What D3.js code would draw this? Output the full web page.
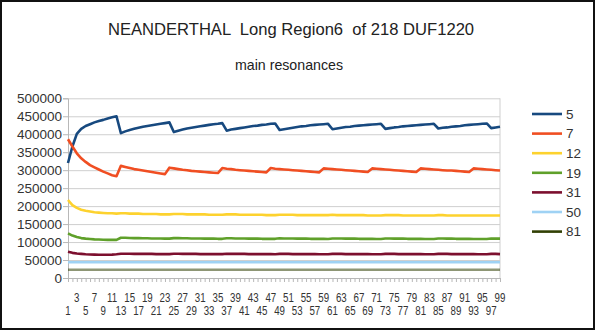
<!DOCTYPE html>
<html>
<head>
<meta charset="utf-8">
<script src="https://cdn.jsdelivr.net/npm/d3@7"></script>
<style>
  html, body { margin: 0; padding: 0; background: #fff; }
  svg { display: block; }
  text { font-family: "Liberation Sans", Arial, sans-serif; }
</style>
</head>
<body>
<svg id="chart" width="595" height="330"></svg>
<script>
const titleText = "NEANDERTHAL  Long Region6  of 218 DUF1220";
const subtitleText = "main resonances";

const categories = [1,2,3,4,5,6,7,8,9,10,11,12,13,14,15,16,17,18,19,20,21,22,23,24,25,26,27,28,29,30,31,32,33,34,35,36,37,38,39,40,41,42,43,44,45,46,47,48,49,50,51,52,53,54,55,56,57,58,59,60,61,62,63,64,65,66,67,68,69,70,71,72,73,74,75,76,77,78,79,80,81,82,83,84,85,86,87,88,89,90,91,92,93,94,95,96,97,98,99];

const tickLabelsTop = [3,7,11,15,19,23,27,31,35,39,43,47,51,55,59,63,67,71,75,79,83,87,91,95,99];
const tickLabelsBottom = [1,5,9,13,17,21,25,29,33,37,41,45,49,53,57,61,65,69,73,77,81,85,89,93,97];

const yTicks = [0,50000,100000,150000,200000,250000,300000,350000,400000,450000,500000];

const seriesNames = ["5","7","12","19","31","50","81"];

const s5 = [320000,366000,401000,415000,423000,428000,433000,437000,440000,444000,447000,450000,
  403000,408000,412000,415000,418000,421000,423000,425000,427000,429000,431000,433000,
  406000,410000,413000,416000,418000,420000,422000,424000,426000,428000,429000,431000,
  410000,413000,415000,417000,419000,421000,423000,424000,426000,427000,429000,430000,
  412000,414000,416000,418000,420000,422000,423000,425000,426000,427000,428000,429000,
  414000,416000,418000,420000,421000,423000,424000,425000,426000,427000,428000,429000,
  415000,417000,419000,420000,422000,423000,424000,425000,426000,427000,428000,429000,
  416000,418000,419000,421000,422000,423000,425000,426000,427000,428000,429000,430000,
  417000,419000,421000];

const s7 = [386000,366000,347000,333000,323000,314000,308000,302000,296000,291000,286000,283000,
  312000,309000,306000,303000,301000,299000,297000,295000,293000,291000,289000,
  307000,305000,303000,301000,300000,298000,297000,296000,295000,294000,293000,292000,
  306000,304000,303000,301000,300000,299000,298000,297000,296000,295000,294000,
  306000,304000,303000,302000,301000,300000,299000,298000,297000,296000,295000,294000,
  305000,304000,303000,302000,301000,300000,299000,298000,297000,296000,295000,
  305000,304000,303000,302000,301000,300000,299000,298000,297000,296000,295000,
  305000,304000,303000,302000,301000,300000,299000,299000,298000,297000,296000,295000,
  305000,304000,303000,302000,301000,300000,299000];

const s12 = [217000,203000,195000,190000,187000,185000,183000,182000,181000,180000,180000,179000,
  180000,180000,179000,179000,179000,178000,178000,178000,178000,177000,177000,177000,
  178000,178000,178000,177000,177000,177000,177000,177000,176000,176000,176000,176000,
  177000,177000,177000,176000,176000,176000,176000,176000,176000,175000,175000,175000,
  176000,176000,176000,176000,175000,175000,175000,175000,175000,175000,175000,175000,
  176000,175000,175000,175000,175000,175000,175000,175000,174000,174000,174000,174000,
  175000,175000,175000,175000,174000,174000,174000,174000,174000,174000,174000,174000,
  175000,175000,174000,174000,174000,174000,174000,174000,174000,174000,174000,174000,
  174000,174000,174000];

const s19 = [124000,118000,114000,111000,109500,108500,107500,107000,106500,106000,106000,106000,
  112000,112000,111500,111000,111000,110500,110500,110000,110000,110000,109500,109500,
  111000,111000,110500,110500,110000,110000,110000,109500,109500,109500,109000,109000,
  110500,110500,110000,110000,110000,109500,109500,109500,109000,109000,109000,109000,
  110500,110000,110000,110000,109500,109500,109500,109000,109000,109000,109000,108500,
  110000,110000,110000,109500,109500,109500,109000,109000,109000,109000,108500,108500,
  110000,110000,109500,109500,109500,109000,109000,109000,109000,108500,108500,108500,
  110000,110000,109500,109500,109000,109000,109000,109000,108500,108500,108500,108500,
  110000,109500,109500];

const s31 = [73000,70000,68000,67000,66000,65500,65000,64500,64500,64500,65000,66000,
  67500,67500,67500,67000,67000,67000,67000,67000,66500,66500,66500,66500,
  67500,67500,67000,67000,67000,67000,66500,66500,66500,66500,66500,66500,
  67500,67000,67000,67000,67000,66500,66500,66500,66500,66500,66500,66000,
  67000,67000,67000,66500,66500,66500,66500,66500,66500,66000,66000,66000,
  67000,67000,67000,66500,66500,66500,66500,66500,66500,66000,66000,66000,
  67000,67000,67000,66500,66500,66500,66500,66500,66500,66000,66000,66000,
  67000,67000,67000,66500,66500,66500,66500,66500,66500,66000,66000,66000,
  67000,67000,66500];

const s50 = [44000,44000,44000,44000,44000,44000,44000,44000,44000,44000,44000,44000,
  44000,44000,44000,44000,44000,44000,44000,44000,44000,44000,44000,44000,
  44000,44000,44000,44000,44000,44000,44000,44000,44000,44000,44000,44000,
  44000,44000,44000,44000,44000,44000,44000,44000,44000,44000,44000,44000,
  44000,44000,44000,44000,44000,44000,44000,44000,44000,44000,44000,44000,
  44000,44000,44000,44000,44000,44000,44000,44000,44000,44000,44000,44000,
  44000,44000,44000,44000,44000,44000,44000,44000,44000,44000,44000,44000,
  44000,44000,44000,44000,44000,44000,44000,44000,44000,44000,44000,44000,
  44000,44000,44000];

const s81 = [23000,23000,23000,23000,23000,23000,23000,23000,23000,23000,23000,23000,
  23000,23000,23000,23000,23000,23000,23000,23000,23000,23000,23000,23000,
  23000,23000,23000,23000,23000,23000,23000,23000,23000,23000,23000,23000,
  23000,23000,23000,23000,23000,23000,23000,23000,23000,23000,23000,23000,
  23000,23000,23000,23000,23000,23000,23000,23000,23000,23000,23000,23000,
  23000,23000,23000,23000,23000,23000,23000,23000,23000,23000,23000,23000,
  23000,23000,23000,23000,23000,23000,23000,23000,23000,23000,23000,23000,
  23000,23000,23000,23000,23000,23000,23000,23000,23000,23000,23000,23000,
  23000,23000,23000];

const seriesValues = [s5, s7, s12, s19, s31, s50, s81];
const seriesColors = ["#17497f", "#f04e22", "#fdd22e", "#5fa02a", "#7c0f2e", "#9fd2f4", "#314004"];
const seriesPlotOpacity = [1, 1, 1, 1, 1, 1, 0.55];

const svg = d3.select("#chart");
const W = 595, H = 330;
const plot = { left: 68, right: 500, top: 98.3, bottom: 278 };

svg.append("rect").attr("x", 0).attr("y", 0).attr("width", W).attr("height", H).attr("fill", "#fff");

const x = d3.scalePoint().domain(categories).range([plot.left, plot.right]);
const y = d3.scaleLinear().domain([0, 500000]).range([plot.bottom, plot.top]);

// gridlines
svg.append("g")
  .attr("transform", `translate(${plot.left},0)`)
  .call(d3.axisLeft(y).tickValues(yTicks).tickSize(-(plot.right - plot.left)).tickFormat(""))
  .call(g => g.select(".domain").remove())
  .call(g => g.selectAll("line").attr("stroke", "#cfcfcf").attr("stroke-width", 1));

// y axis
svg.append("g")
  .attr("transform", `translate(${plot.left},0)`)
  .call(d3.axisLeft(y).tickValues(yTicks).tickSize(5).tickPadding(1).tickFormat(d3.format("d")))
  .call(g => g.select(".domain").attr("stroke", "#b8b8b8"))
  .call(g => g.selectAll("line").attr("stroke", "#b8b8b8"))
  .call(g => g.selectAll("text")
    .attr("font-family", "'Liberation Sans', Arial, sans-serif")
    .attr("font-size", 13.5).attr("fill", "#333"));

// right border
svg.append("line")
  .attr("x1", plot.right).attr("x2", plot.right)
  .attr("y1", plot.top).attr("y2", plot.bottom)
  .attr("stroke", "#cfcfcf");

// x axis ticks
svg.append("g")
  .attr("transform", `translate(0,${plot.bottom})`)
  .call(d3.axisBottom(x).tickSize(4).tickFormat(""))
  .call(g => g.select(".domain").attr("stroke", "#b8b8b8"))
  .call(g => g.selectAll("line").attr("stroke", "#b8b8b8"));

// x labels (staggered)
function drawXLabels(labels, baseline) {
  const g = svg.append("g");
  labels.forEach(c => {
    g.append("g")
      .attr("transform", `translate(${x(c)},${baseline})`)
      .append("text")
      .attr("transform", "scale(0.72,1)")
      .attr("text-anchor", "middle")
      .attr("font-size", 13.5)
      .attr("fill", "#333")
      .text(c);
  });
}
drawXLabels(tickLabelsTop, 301.5);
drawXLabels(tickLabelsBottom, 315);

// lines
const line = d3.line()
  .x((d, i) => x(categories[i]))
  .y(d => y(d));

seriesValues.forEach((vals, k) => {
  svg.append("path")
    .datum(vals)
    .attr("d", line)
    .attr("fill", "none")
    .attr("stroke", seriesColors[k])
    .attr("stroke-opacity", seriesPlotOpacity[k])
    .attr("stroke-width", 2.6)
    .attr("stroke-linejoin", "round");
});

// legend
const legend = svg.append("g");
seriesNames.forEach((name, k) => {
  const cy = 114 + k * 19.6;
  legend.append("line")
    .attr("x1", 532).attr("x2", 562).attr("y1", cy).attr("y2", cy)
    .attr("stroke", seriesColors[k]).attr("stroke-width", 2.6);
  legend.append("text")
    .attr("x", 566).attr("y", cy).attr("dy", "0.36em")
    .attr("font-size", 13.5).attr("fill", "#333")
    .text(name);
});

// titles
svg.append("text")
  .attr("x", 291).attr("y", 35)
  .attr("text-anchor", "middle")
  .attr("font-size", 16.6).attr("fill", "#222")
  .style("white-space", "pre")
  .text(titleText);

svg.append("text")
  .attr("x", 289).attr("y", 69.5)
  .attr("text-anchor", "middle")
  .attr("font-size", 14.2).attr("fill", "#222")
  .text(subtitleText);

// outer frame
svg.append("rect")
  .attr("x", 1).attr("y", 1).attr("width", W - 2).attr("height", H - 2)
  .attr("fill", "none").attr("stroke", "#111").attr("stroke-width", 2);
</script>
</body>
</html>
